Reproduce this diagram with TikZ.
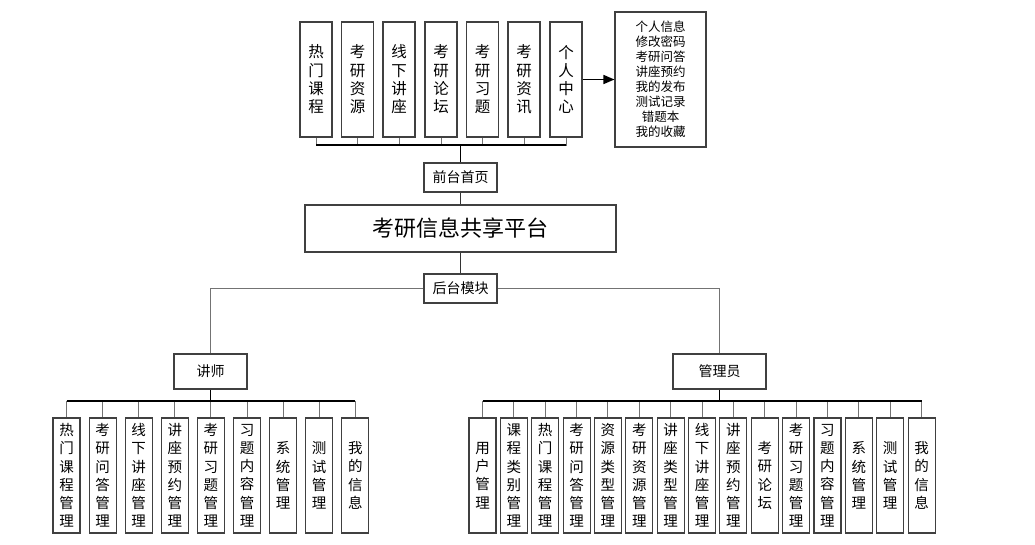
\documentclass[tikz,border=0pt]{standalone}
\usepackage{fontspec}
\setmainfont{Noto Sans CJK SC}
\usetikzlibrary{arrows.meta}
\begin{document}
\begin{tikzpicture}[x=1pt,y=-1pt,
  box/.style={draw=black!75,line width=1.1pt,fill=white,inner sep=0pt,align=center},
  vbox/.style={box,minimum width=32pt,minimum height=115pt,font=\fontsize{15.5}{18.3}\selectfont},
  sbox/.style={box,minimum width=27pt,minimum height=115pt,font=\fontsize{14.5}{18.2}\selectfont},
  hbox/.style={box,minimum width=73pt,minimum height=29pt,font=\fontsize{14}{16}\selectfont},
  stub/.style={draw=black!55,line width=0.9pt},
  trunk/.style={draw=black,line width=1.5pt},
  thin/.style={draw=black!80,line width=0.9pt},
]
\useasboundingbox (0,0) rectangle (1035,544);

% front-end modules
\foreach \i/\x/\t in {1/316/{热\\门\\课\\程},2/357.5/{考\\研\\资\\源},3/399/{线\\下\\讲\\座},
  4/441/{考\\研\\论\\坛},5/482.5/{考\\研\\习\\题},6/524/{考\\研\\资\\讯},7/566/{个\\人\\中\\心}}
  \node[vbox] (t\i) at (\x,79.5) {\t};

\node[box,minimum width=91pt,minimum height=135pt,font=\fontsize{12.5}{15}\selectfont] (info) at (660.5,79.5)
  {个人信息\\修改密码\\考研问答\\讲座预约\\我的发布\\测试记录\\错题本\\我的收藏};

\node[hbox] (front) at (460.5,177.5) {前台首页};
\node[box,minimum width=311pt,minimum height=47pt,font=\fontsize{22}{24}\selectfont] (main) at (460.5,228.5) {考研信息共享平台};
\node[hbox] (back) at (460.5,288.5) {后台模块};

\node[box,minimum width=73pt,minimum height=35pt,font=\fontsize{14}{16}\selectfont] (lec) at (210.5,371.5) {讲师};
\node[box,minimum width=93pt,minimum height=35pt,font=\fontsize{14}{16}\selectfont] (adm) at (719.5,371.5) {管理员};

% lecturer modules
\foreach \i/\t in {1/{热\\门\\课\\程\\管\\理},2/{考\\研\\问\\答\\管\\理},3/{线\\下\\讲\\座\\管\\理},
  4/{讲\\座\\预\\约\\管\\理},5/{考\\研\\习\\题\\管\\理},6/{习\\题\\内\\容\\管\\理},
  7/{系\\统\\管\\理},8/{测\\试\\管\\理},9/{我\\的\\信\\息}}
  \node[sbox] (l\i) at ({66.5+36.1*(\i-1)},475.5) {\t};

% administrator modules
\foreach \i/\t in {1/{用\\户\\管\\理},2/{课\\程\\类\\别\\管\\理},3/{热\\门\\课\\程\\管\\理},
  4/{考\\研\\问\\答\\管\\理},5/{资\\源\\类\\型\\管\\理},6/{考\\研\\资\\源\\管\\理},
  7/{讲\\座\\类\\型\\管\\理},8/{线\\下\\讲\\座\\管\\理},9/{讲\\座\\预\\约\\管\\理},
  10/{考\\研\\论\\坛},11/{考\\研\\习\\题\\管\\理},12/{习\\题\\内\\容\\管\\理},
  13/{系\\统\\管\\理},14/{测\\试\\管\\理},15/{我\\的\\信\\息}}
  \node[sbox] (r\i) at ({482.5+31.36*(\i-1)},475.5) {\t};

% top bus
\coordinate (tbus) at (front.north |- 0,145);
\foreach \i in {1,...,7} \draw[stub] (tbus) -| (t\i.south);
\draw[trunk] (t1.south |- tbus) -- (t7.south |- tbus);
\draw[trunk] (front.north) -- (tbus);
\draw[-{Triangle[length=11pt,width=9pt]},draw=black,line width=1.5pt] (t7.east) -- (info.west);

% centre column
\draw[thin] (front.south) -- (main.north);
\draw[thin] (main.south) -- (back.north);
\draw[stub] (back.west) -| (lec.north);
\draw[stub] (back.east) -| (adm.north);

% lecturer bus
\coordinate (lbus) at (lec.south |- 0,401);
\foreach \i in {1,...,9} \draw[stub] (lbus) -| (l\i.north);
\draw[trunk] (l1.north |- lbus) -- (l9.north |- lbus);
\draw[trunk] (lec.south) -- (lbus);

% administrator bus
\coordinate (abus) at (adm.south |- 0,401);
\foreach \i in {1,...,15} \draw[stub] (abus) -| (r\i.north);
\draw[trunk] (r1.north |- abus) -- (r15.north |- abus);
\draw[trunk] (adm.south) -- (abus);
\end{tikzpicture}
\end{document}
